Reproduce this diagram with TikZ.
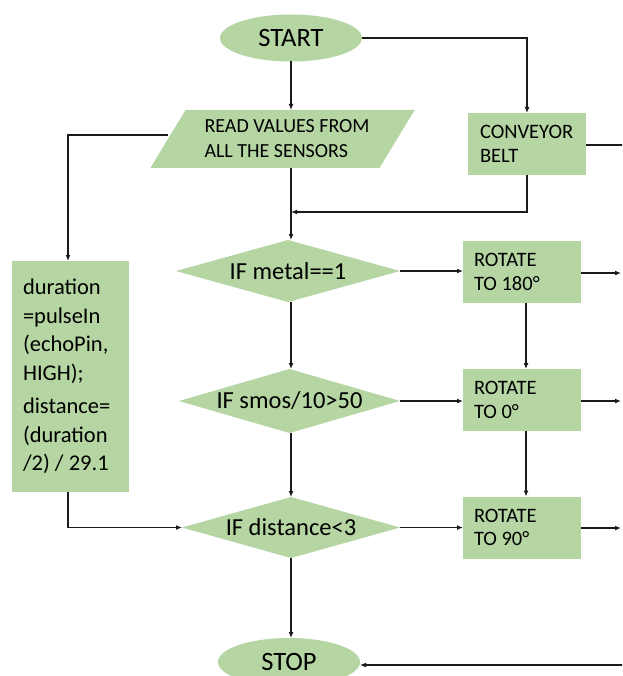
\documentclass[tikz,border=0pt]{standalone}
\usepackage{fontspec}
\setmainfont{Carlito}
\usetikzlibrary{shapes.geometric,arrows.meta}
\definecolor{boxgreen}{HTML}{B5D5A3}
\definecolor{linec}{HTML}{1A1A1A}
\begin{document}
\begin{tikzpicture}[x=1pt,y=-1pt,
  every node/.style={inner sep=0pt, outer sep=0pt, text=black},
  txt/.style={align=flush left, execute at begin node={\spaceskip=0pt\xspaceskip=0pt}},
  term/.style={ellipse, fill=boxgreen, minimum width=142pt, minimum height=47pt,
    font=\fontsize{26.5}{30}\selectfont},
  proc/.style={rectangle, fill=boxgreen, minimum width=118pt, minimum height=62pt,
    text width=96pt, txt, font=\fontsize{20.5}{23.5}\selectfont},
  dec/.style={diamond, fill=boxgreen, aspect=3.56, inner sep=-5pt,
    font=\fontsize{24.5}{28}\selectfont},
  io/.style={trapezium, trapezium left angle=51, trapezium right angle=129,
    trapezium stretches=true, fill=boxgreen, minimum width=265pt, minimum height=58pt,
    inner xsep=-10pt, text width=190pt, txt, font=\fontsize{20}{25}\selectfont},
  conn/.style={line width=1.5pt, draw=linec},
  arr/.style={conn, -{Latex[length=6pt,width=5pt]}}
]
\clip (0,0) rectangle (622,676);
\fill[white] (0,0) rectangle (622,676);

\node[term] (start) at (291,38) {START};
\node[io] (read) at (282.5,139) {\hspace*{17pt}READ VALUES FROM\\\hspace*{17pt}ALL THE SENSORS};
\node[proc, text width=94pt] (conv) at (527,144) {CONVEYOR\\BELT};
\node[proc, minimum width=117pt, minimum height=231pt, text width=95pt,
  font=\fontsize{22.5}{28.5}\selectfont] (dur) at (70.5,376.5)
  {duration\\=pulseIn\\(echoPin,\\HIGH);\\[5pt]distance=\\(duration\\/2) / 29.1};

\node[dec, minimum width=224pt, minimum height=62pt] (d1) at (288,271) {IF metal==1};
\node[dec, minimum width=221pt, minimum height=64pt] (d2) at (289.5,401) {IF smos/10>50};
\node[dec, minimum width=218pt, minimum height=61pt] (d3) at (291,527.5) {IF distance<3};

\node[proc] (r1) at (522,272) {ROTATE\\TO 180°};
\node[proc] (r2) at (522,400) {ROTATE\\TO 0°};
\node[proc] (r3) at (522,527.5) {ROTATE\\TO 90°};

\node[term, minimum height=48pt] (stop) at (289,662) {STOP};

\coordinate (j) at (291,212);
\coordinate (c1) at (624,145);
\coordinate (e1) at (621,273);
\coordinate (e2) at (621,401);
\coordinate (e3) at (621,528);
\coordinate (e4) at (624,665);

% main spine
\draw[arr] (start.south -| j) -- (read.north -| j);
\draw[arr] (start.east) -| (conv.north);
\draw[arr] (read.south -| j) -- (d1.north -| j);
\draw[arr] (conv.south) |- (j);
\draw[arr] ([yshift=4pt]read.west) -| ([xshift=-2.5pt]dur.north);
\draw[arr] ([xshift=-2.5pt]dur.south) |- (d3.west);
\draw[arr] (d1.south -| j) -- (d2.north -| j);
\draw[arr] (d2.south -| j) -- (d3.north -| j);
\draw[arr] (d3.south -| j) -- (stop.north -| j);

% decisions to actions
\draw[arr] (d1.east) -- (d1.east -| r1.west);
\draw[arr] (d2.east) -- (d2.east -| r2.west);
\draw[arr] (d3.east) -- (d3.east -| r3.west);
\draw[arr] ([xshift=4pt]r1.south) -- ([xshift=4pt]r2.north);
\draw[arr] ([xshift=4pt]r2.south) -- ([xshift=4pt]r3.north);

% outgoing to the right edge
\draw[conn] (conv.east |- c1) -- (c1);
\draw[arr] (r1.east |- e1) -- (e1);
\draw[arr] (r2.east |- e2) -- (e2);
\draw[arr] (r3.east |- e3) -- (e3);
\draw[arr] (e4) -- (e4 -| stop.east);
\end{tikzpicture}
\end{document}
